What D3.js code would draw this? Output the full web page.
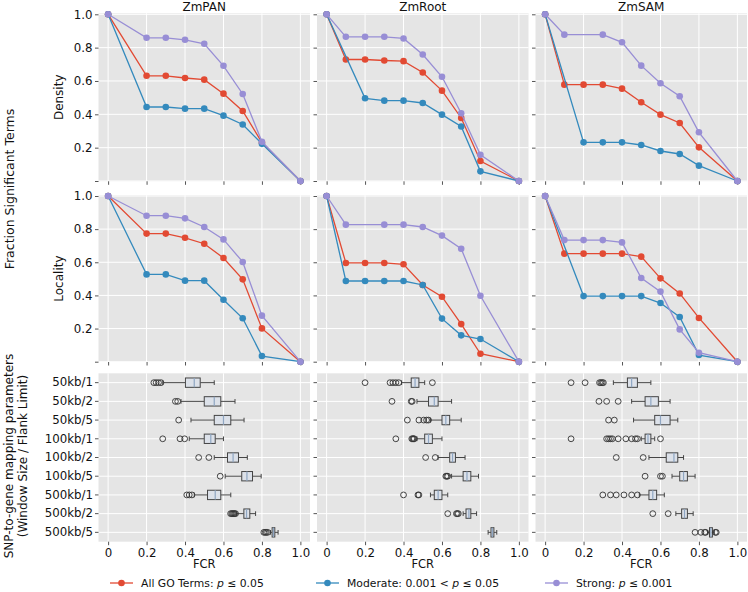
<!DOCTYPE html>
<html><head><meta charset="utf-8">
<script src="https://cdn.jsdelivr.net/npm/d3@7"></script>
<style>
body{margin:0;background:#fff}
svg{display:block}
text{font-family:"DejaVu Sans",sans-serif;fill:#111}
</style>
</head><body><svg id="c" width="748" height="592"></svg>
<script>
// ---------------- DATA ----------------
const organisms = ["ZmPAN", "ZmRoot", "ZmSAM"];
const seriesNames = ["All GO Terms", "Moderate", "Strong"];
const seriesColors = ["#E24A33", "#348ABD", "#988ED5"];
const xTicks = [0, 0.2, 0.4, 0.6, 0.8, 1.0];
const xTickLabels = ["0", "0.2", "0.4", "0.6", "0.8", "1.0"];
const yTicks = [0, 0.2, 0.4, 0.6, 0.8, 1.0];
const yTickLabels = ["", "0.2", "0.4", "0.6", "0.8", "1.0"];
const rowLabels = ["Density", "Locality"];
const mappingParams = ["50kb/1", "50kb/2", "50kb/5", "100kb/1", "100kb/2", "100kb/5", "500kb/1", "500kb/2", "500kb/5"];

// Density (FCR, fraction)
const densityPanAll      = [[0,1],[0.2,0.631],[0.3,0.631],[0.4,0.618],[0.5,0.608],[0.6,0.524],[0.7,0.42],[0.8,0.231],[1.0,0]];
const densityPanModerate = [[0,1],[0.2,0.444],[0.3,0.444],[0.4,0.434],[0.5,0.434],[0.6,0.392],[0.7,0.339],[0.8,0.223],[1.0,0]];
const densityPanStrong   = [[0,1],[0.2,0.859],[0.3,0.859],[0.4,0.847],[0.5,0.823],[0.6,0.691],[0.7,0.522],[0.8,0.235],[1.0,0]];
const densityRootAll      = [[0,1],[0.1,0.729],[0.2,0.729],[0.3,0.723],[0.4,0.719],[0.5,0.651],[0.6,0.542],[0.7,0.378],[0.8,0.12],[1.0,0]];
const densityRootModerate = [[0,1],[0.2,0.496],[0.3,0.482],[0.4,0.482],[0.5,0.468],[0.6,0.398],[0.7,0.327],[0.8,0.058],[1.0,0]];
const densityRootStrong   = [[0,1],[0.1,0.865],[0.2,0.865],[0.3,0.865],[0.4,0.855],[0.5,0.759],[0.6,0.625],[0.7,0.406],[0.8,0.157],[1.0,0]];
const densitySamAll      = [[0,1],[0.1,0.578],[0.2,0.578],[0.3,0.578],[0.4,0.554],[0.5,0.472],[0.6,0.398],[0.7,0.348],[0.8,0.202],[1.0,0]];
const densitySamModerate = [[0,1],[0.2,0.232],[0.3,0.232],[0.4,0.232],[0.5,0.216],[0.6,0.18],[0.7,0.162],[0.8,0.092],[1.0,0]];
const densitySamStrong   = [[0,1],[0.1,0.878],[0.3,0.878],[0.4,0.832],[0.5,0.692],[0.6,0.586],[0.7,0.508],[0.8,0.292],[1.0,0]];

// Locality
const localityPanAll      = [[0,1],[0.2,0.773],[0.3,0.773],[0.4,0.748],[0.5,0.712],[0.6,0.626],[0.7,0.497],[0.8,0.201],[1.0,0]];
const localityPanModerate = [[0,1],[0.2,0.527],[0.3,0.527],[0.4,0.489],[0.5,0.489],[0.6,0.374],[0.7,0.262],[0.8,0.034],[1.0,0]];
const localityPanStrong   = [[0,1],[0.2,0.881],[0.3,0.881],[0.4,0.865],[0.5,0.813],[0.6,0.738],[0.7,0.602],[0.8,0.278],[1.0,0]];
const localityRootAll      = [[0,1],[0.1,0.596],[0.2,0.596],[0.3,0.596],[0.4,0.588],[0.5,0.463],[0.6,0.392],[0.7,0.227],[0.8,0.048],[1.0,0]];
const localityRootModerate = [[0,1],[0.1,0.487],[0.2,0.487],[0.3,0.487],[0.4,0.487],[0.5,0.463],[0.6,0.26],[0.7,0.159],[0.8,0.137],[1.0,0]];
const localityRootStrong   = [[0,1],[0.1,0.827],[0.3,0.827],[0.4,0.827],[0.5,0.813],[0.6,0.761],[0.7,0.682],[0.8,0.398],[1.0,0]];
const localitySamAll      = [[0,1],[0.1,0.652],[0.2,0.652],[0.3,0.652],[0.4,0.652],[0.5,0.634],[0.6,0.503],[0.7,0.412],[0.8,0.264],[1.0,0]];
const localitySamModerate = [[0,1],[0.2,0.396],[0.3,0.396],[0.4,0.396],[0.5,0.396],[0.6,0.354],[0.7,0.27],[0.8,0.04],[1.0,0]];
const localitySamStrong   = [[0,1],[0.1,0.734],[0.2,0.734],[0.3,0.734],[0.4,0.72],[0.5,0.505],[0.6,0.423],[0.7,0.195],[0.8,0.054],[1.0,0]];

// Boxplots: [whiskerLow, q1, median, q3, whiskerHigh]
const panBoxStats = [
  [0.284,0.402,0.448,0.479,0.552],[0.379,0.500,0.552,0.586,0.660],[0.431,0.552,0.600,0.638,0.707],
  [0.422,0.500,0.534,0.557,0.600],[0.552,0.621,0.650,0.678,0.724],[0.609,0.695,0.722,0.751,0.796],
  [0.448,0.517,0.557,0.586,0.638],[0.667,0.706,0.720,0.737,0.767],[0.845,0.853,0.860,0.867,0.884]];
const panFliers = [
  [0.238,0.250,0.262,0.275],[0.350,0.362],[0.367],[0.284,0.374,0.398],[0.471,0.524],[0.583],
  [0.409,0.422,0.436],[0.637,0.643,0.648,0.653,0.658,0.663],[0.810,0.817,0.823,0.830]];
const rootBoxStats = [
  [0.390,0.440,0.460,0.480,0.510],[0.470,0.530,0.560,0.580,0.650],[0.540,0.600,0.620,0.640,0.700],
  [0.470,0.510,0.530,0.550,0.600],[0.580,0.640,0.655,0.670,0.720],[0.650,0.710,0.730,0.750,0.790],
  [0.540,0.560,0.580,0.600,0.630],[0.710,0.725,0.740,0.750,0.780],[0.840,0.855,0.862,0.870,0.885]];
const rootFliers = [
  [0.200,0.330,0.345,0.360,0.375,0.550],[0.340,0.440,0.445],[0.420,0.480,0.505,0.520,0.530],
  [0.360,0.443,0.448,0.452,0.456],[0.515,0.565],[0.620,0.625,0.630],
  [0.400,0.475,0.480],[0.630,0.675,0.680,0.685],[]];
const samBoxStats = [
  [0.355,0.428,0.450,0.480,0.550],[0.450,0.520,0.550,0.589,0.650],[0.460,0.570,0.600,0.650,0.690],
  [0.500,0.520,0.535,0.550,0.570],[0.540,0.630,0.670,0.690,0.720],[0.660,0.700,0.720,0.740,0.780],
  [0.490,0.540,0.560,0.580,0.620],[0.680,0.710,0.725,0.740,0.770],[0.845,0.855,0.862,0.870,0.880]];
const samFliers = [
  [0.135,0.208,0.283,0.290,0.297,0.303],[0.280,0.320,0.380],[0.330,0.360],
  [0.135,0.320,0.330,0.340,0.350,0.380,0.420,0.450,0.470,0.480,0.600],[0.370,0.510],[0.520,0.600,0.610],
  [0.300,0.340,0.370,0.410,0.450,0.480],[0.560,0.640],[0.780,0.810,0.830,0.835,0.885,0.890]];

const lineData = [
  [[densityPanAll, densityPanModerate, densityPanStrong],
   [densityRootAll, densityRootModerate, densityRootStrong],
   [densitySamAll, densitySamModerate, densitySamStrong]],
  [[localityPanAll, localityPanModerate, localityPanStrong],
   [localityRootAll, localityRootModerate, localityRootStrong],
   [localitySamAll, localitySamModerate, localitySamStrong]]
];
const boxData = [[panBoxStats, panFliers], [rootBoxStats, rootFliers], [samBoxStats, samFliers]];

// ---------------- LAYOUT ----------------
const svg = d3.select("#c");
const colLeft = [98.5, 317, 535.5];
const panelW = 211.5;
const rows = [
  {top: 13.3, bottom: 181.3, y1: 14.3, y0: 181},
  {top: 195.2, bottom: 362, y1: 196, y0: 361.7}
];
const boxRow = {top: 373.3, bottom: 541.7};
const bg = "#E5E5E5", tickColor = "#555";
const tickFont = 11.8;

function xScaleFor(c) {
  return d3.scaleLinear().domain([-0.05, 1.05]).range([colLeft[c], colLeft[c] + panelW]);
}

// line panels
rows.forEach((r, ri) => {
  const y = d3.scaleLinear().domain([0, 1]).range([r.y0, r.y1]);
  organisms.forEach((org, c) => {
    const x = xScaleFor(c);
    const g = svg.append("g");
    g.append("rect").attr("x", colLeft[c]).attr("y", r.top).attr("width", panelW)
      .attr("height", r.bottom - r.top).attr("fill", bg);
    g.selectAll(".gx").data(xTicks).join("line")
      .attr("x1", d => x(d)).attr("x2", d => x(d)).attr("y1", r.top).attr("y2", r.bottom)
      .attr("stroke", "#fff").attr("stroke-width", 1);
    g.selectAll(".gy").data(yTicks).join("line")
      .attr("x1", colLeft[c]).attr("x2", colLeft[c] + panelW).attr("y1", d => y(d)).attr("y2", d => y(d))
      .attr("stroke", "#fff").attr("stroke-width", 1);
    const xa = d3.axisBottom(x).tickValues(xTicks).tickFormat("").tickSize(3.5).tickSizeOuter(0);
    const ax = g.append("g").attr("transform", `translate(0,${r.bottom})`).call(xa);
    ax.select(".domain").remove();
    ax.selectAll("line").attr("stroke", tickColor);
    const ya = d3.axisLeft(y).tickValues(yTicks).tickSize(3.5).tickSizeOuter(0)
      .tickFormat((d, i) => c === 0 ? yTickLabels[i] : "");
    const ay = g.append("g").attr("transform", `translate(${colLeft[c]},0)`).call(ya);
    ay.select(".domain").remove();
    ay.selectAll("line").attr("stroke", tickColor);
    ay.selectAll("text").attr("font-size", tickFont).attr("font-family", "DejaVu Sans").attr("fill", "#111").attr("x", -6);
    const line = d3.line().x(d => x(d[0])).y(d => y(d[1]));
    lineData[ri][c].forEach((s, si) => {
      g.append("path").datum(s).attr("d", line).attr("fill", "none")
        .attr("stroke", seriesColors[si]).attr("stroke-width", 1.3);
      g.selectAll(null).data(s).join("circle")
        .attr("cx", d => x(d[0])).attr("cy", d => y(d[1])).attr("r", 3.3)
        .attr("fill", seriesColors[si]);
    });
    if (ri === 0) {
      svg.append("text").attr("x", colLeft[c] + panelW / 2).attr("y", 11)
        .attr("text-anchor", "middle").attr("font-size", 12).text(org);
    }
  });
  svg.append("text")
    .attr("transform", `translate(59,${(r.top + r.bottom) / 2}) rotate(-90)`)
    .attr("text-anchor", "middle").attr("dy", "0.35em").attr("font-size", 12).text(rowLabels[ri]);
});

// box panels
const yb = d3.scaleBand().domain(mappingParams).range([boxRow.top, boxRow.bottom]);
const bw = yb.bandwidth() * 0.5;
organisms.forEach((org, c) => {
  const x = xScaleFor(c);
  const g = svg.append("g");
  g.append("rect").attr("x", colLeft[c]).attr("y", boxRow.top).attr("width", panelW)
    .attr("height", boxRow.bottom - boxRow.top).attr("fill", bg);
  g.selectAll(".gx").data(xTicks).join("line")
    .attr("x1", d => x(d)).attr("x2", d => x(d)).attr("y1", boxRow.top).attr("y2", boxRow.bottom)
    .attr("stroke", "#fff");
  g.selectAll(".gy").data(mappingParams).join("line")
    .attr("x1", colLeft[c]).attr("x2", colLeft[c] + panelW)
    .attr("y1", d => yb(d) + yb.bandwidth() / 2).attr("y2", d => yb(d) + yb.bandwidth() / 2)
    .attr("stroke", "#fff");
  const xa = d3.axisBottom(x).tickValues(xTicks).tickSize(3.5).tickSizeOuter(0)
    .tickFormat((d, i) => xTickLabels[i]);
  const ax = g.append("g").attr("transform", `translate(0,${boxRow.bottom})`).call(xa);
  ax.select(".domain").remove();
  ax.selectAll("line").attr("stroke", tickColor);
  ax.selectAll("text").attr("font-size", tickFont).attr("font-family", "DejaVu Sans").attr("fill", "#111").attr("y", 6.5);
  const ya = d3.axisLeft(yb).tickSize(3.5).tickSizeOuter(0).tickFormat(d => c === 0 ? d : "");
  const ay = g.append("g").attr("transform", `translate(${colLeft[c]},0)`).call(ya);
  ay.select(".domain").remove();
  ay.selectAll("line").attr("stroke", tickColor);
  ay.selectAll("text").attr("font-size", tickFont).attr("font-family", "DejaVu Sans").attr("fill", "#111").attr("x", -5.5);

  const [stats, fliers] = boxData[c];
  stats.forEach((s, i) => {
    const cy = yb(mappingParams[i]) + yb.bandwidth() / 2;
    const [lo, q1, med, q3, hi] = s;
    const wg = g.append("g").attr("stroke", "#444").attr("stroke-width", 1);
    wg.append("line").attr("x1", x(lo)).attr("x2", x(q1)).attr("y1", cy).attr("y2", cy);
    wg.append("line").attr("x1", x(q3)).attr("x2", x(hi)).attr("y1", cy).attr("y2", cy);
    wg.append("line").attr("x1", x(lo)).attr("x2", x(lo)).attr("y1", cy - bw / 4).attr("y2", cy + bw / 4);
    wg.append("line").attr("x1", x(hi)).attr("x2", x(hi)).attr("y1", cy - bw / 4).attr("y2", cy + bw / 4);
    wg.append("rect").attr("x", x(q1)).attr("y", cy - bw / 2).attr("width", x(q3) - x(q1))
      .attr("height", bw).attr("fill", "#DCE1E9");
    g.append("line").attr("x1", x(med)).attr("x2", x(med)).attr("y1", cy - bw / 2).attr("y2", cy + bw / 2)
      .attr("stroke", "#8FA6C2").attr("stroke-width", 1.2);
    g.selectAll(null).data(fliers[i]).join("circle")
      .attr("cx", d => x(d)).attr("cy", cy).attr("r", 2.9)
      .attr("fill", "none").attr("stroke", "#333").attr("stroke-width", 0.9);
  });
  svg.append("text").attr("x", colLeft[c] + panelW / 2).attr("y", 568)
    .attr("text-anchor", "middle").attr("font-size", 11.5).text("FCR");
});

// figure labels
svg.append("text").attr("transform", `translate(10,189) rotate(-90)`)
  .attr("text-anchor", "middle").attr("dy", "0.35em").attr("font-size", 12.5).text("Fraction Significant Terms");
svg.append("text").attr("transform", `translate(9,456) rotate(-90)`)
  .attr("text-anchor", "middle").attr("dy", "0.35em").attr("font-size", 12).text("SNP-to-gene mapping parameters");
svg.append("text").attr("transform", `translate(23,456) rotate(-90)`)
  .attr("text-anchor", "middle").attr("dy", "0.35em").attr("font-size", 12).text("(Window Size / Flank Limit)");

// legend
const legendX = [110, 316, 545];
const legendY = 583;
const legendParts = [
  ["All GO Terms: ", "p", " ≤ 0.05"],
  ["Moderate: 0.001 < ", "p", " ≤ 0.05"],
  ["Strong: ", "p", " ≤ 0.001"]
];
seriesNames.forEach((n, i) => {
  const g = svg.append("g");
  g.append("line").attr("x1", legendX[i]).attr("x2", legendX[i] + 23).attr("y1", legendY).attr("y2", legendY)
    .attr("stroke", seriesColors[i]).attr("stroke-width", 1.3);
  g.append("circle").attr("cx", legendX[i] + 11.5).attr("cy", legendY).attr("r", 3.3).attr("fill", seriesColors[i]);
  const t = g.append("text").attr("x", legendX[i] + 31).attr("y", legendY).attr("dy", "0.35em").attr("font-size", 10.8);
  t.append("tspan").text(legendParts[i][0]);
  t.append("tspan").attr("font-style", "italic").text(legendParts[i][1]);
  t.append("tspan").text(legendParts[i][2]);
});
</script>
</body></html>
